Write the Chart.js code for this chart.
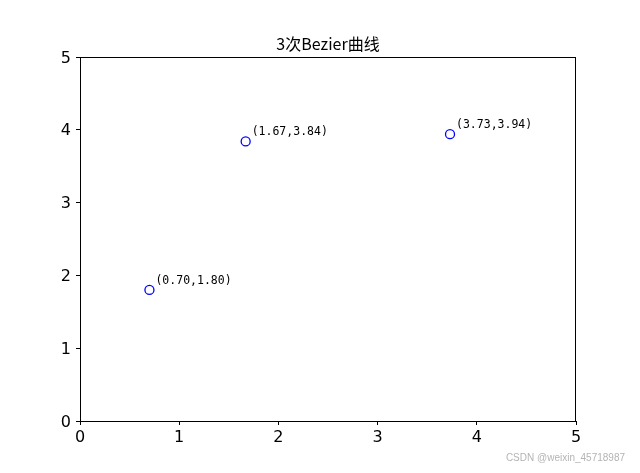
<!DOCTYPE html>
<html>
<head>
<meta charset="utf-8">
<script src="https://cdn.jsdelivr.net/npm/chart.js@4/dist/chart.umd.min.js"></script>
<style>
  html, body { margin: 0; padding: 0; background: #fff; }
  #wrap { width: 640px; height: 473px; position: relative; }
</style>
</head>
<body>
<div id="wrap"><canvas id="bezier"></canvas></div>
<script>
// control points
const xValues = [0.70, 1.67, 3.73];
const yValues = [1.80, 3.84, 3.94];
const tickValues = [0, 1, 2, 3, 4, 5];
const titleText = '3次Bezier曲线';
const watermark = 'CSDN @weixin_45718987';

const points = xValues.map((x, i) => ({ x: x, y: yValues[i] }));

// box around plot, title, point labels and watermark
const decor = {
    id: 'decor',
    afterDatasetsDraw(chart) {
        const { ctx, chartArea: a, scales } = chart;
        ctx.save();
        ctx.strokeStyle = '#000';
        ctx.lineWidth = 1;
        ctx.strokeRect(a.left + 0.5, a.top + 0.5, a.right - a.left - 1, a.bottom - a.top);

        ctx.fillStyle = '#000';
        ctx.font = '16px "Noto Sans CJK SC", sans-serif';
        ctx.textAlign = 'center';
        ctx.textBaseline = 'alphabetic';
        ctx.fillText(titleText, (a.left + a.right) / 2, a.top - 7);

        ctx.font = '11.5px "DejaVu Sans Mono", monospace';
        ctx.textAlign = 'left';
        ctx.textBaseline = 'middle';
        points.forEach(p => {
            const px = scales.x.getPixelForValue(p.x);
            const py = scales.y.getPixelForValue(p.y);
            ctx.fillText(`(${p.x.toFixed(2)},${p.y.toFixed(2)})`, px + 6, py - 9);
        });

        ctx.fillStyle = '#b4b4b4';
        ctx.font = '10px "Liberation Sans", sans-serif';
        ctx.textAlign = 'right';
        ctx.fillText(watermark, 625, 458);
        ctx.restore();
    }
};

new Chart(document.getElementById('bezier'), {
    type: 'scatter',
    data: {
        datasets: [{
            data: points,
            pointRadius: 4.5,
            pointHoverRadius: 4.5,
            pointBorderColor: '#0000ff',
            pointBackgroundColor: 'rgba(0,0,0,0)',
            pointBorderWidth: 1.3
        }]
    },
    options: {
        responsive: true,
        maintainAspectRatio: false,
        animation: false,
        layout: { padding: { left: 0, right: 64, top: 57, bottom: 0 } },
        plugins: {
            legend: { display: false },
            title: { display: false },
            tooltip: { enabled: false }
        },
        scales: {
            x: {
                type: 'linear',
                min: 0,
                max: 5,
                afterBuildTicks: s => { s.ticks = tickValues.map(v => ({ value: v })); },
                afterFit: s => { s.height = 52; },
                border: { display: false },
                grid: { drawOnChartArea: false, tickLength: 4, color: '#000' },
                ticks: { color: '#000', padding: 3, font: { size: 16, family: 'DejaVu Sans' } }
            },
            y: {
                type: 'linear',
                min: 0,
                max: 5,
                afterBuildTicks: s => { s.ticks = tickValues.map(v => ({ value: v })); },
                afterFit: s => { s.width = 80; },
                border: { display: false },
                grid: { drawOnChartArea: false, tickLength: 4, color: '#000' },
                ticks: { color: '#000', padding: 5, labelOffset: 1.5, font: { size: 16, family: 'DejaVu Sans' } }
            }
        }
    },
    plugins: [decor]
});
</script>
</body>
</html>
